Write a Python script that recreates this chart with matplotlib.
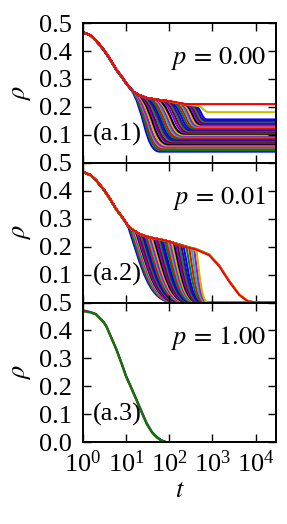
import numpy as np
import matplotlib
matplotlib.use("Agg")
import matplotlib.pyplot as plt
from matplotlib.path import Path
from matplotlib.patches import PathPatch

plt.rcParams.update({
    "font.family": "Liberation Serif",
    "mathtext.fontset": "stix",
    "font.size": 19,
    "axes.linewidth": 1.4,
})

T_END = 3.0e4
COLORS = ["b", "g", "r", "c", "m", "y", "k", "#7f00ff", "#800000", "#008080", "#4b0082"]

# common early decay of panels (a.1) and (a.2)
T_EARLY = [1, 1.5, 2, 3, 4, 6, 8, 10]
RHO_EARLY = [0.467, 0.456, 0.438, 0.405, 0.377, 0.332, 0.307, 0.285]

# (a.1) p = 0.00: shoulder, then each run falls to its own plateau
A1_SHOULDER_T = [12, 15, 20, 30, 50, 90, 150, 300, 600]
A1_SHOULDER_RHO = [0.270, 0.253, 0.242, 0.232, 0.226, 0.221, 0.214, 0.207, 0.202]
A1_LEAVE_T = [12, 13, 14, 15, 16, 18, 20, 22, 24, 27, 30, 33, 36, 40, 45, 50, 55, 60,
              70, 80, 90, 100, 115, 130, 150, 170, 190, 215, 240, 270, 300, 330, 370,
              420]
A1_LEAVE_RHO = [0.270, 0.264, 0.258, 0.253, 0.250, 0.246, 0.242, 0.239, 0.237, 0.234,
                0.232, 0.231, 0.230, 0.229, 0.227, 0.226, 0.225, 0.224, 0.223, 0.222,
                0.221, 0.220, 0.218, 0.216, 0.214, 0.213, 0.212, 0.210, 0.209, 0.208,
                0.207, 0.206, 0.205, 0.204]
A1_SETTLE_T = [60, 65, 70, 75, 80, 88, 95, 105, 112, 122, 132, 142, 152, 165, 180, 195,
               210, 225, 250, 275, 300, 320, 350, 380, 410, 440, 470, 510, 550, 590, 630,
               660, 700, 760]
A1_FINAL = [0.040, 0.045, 0.050, 0.055, 0.058, 0.062, 0.066, 0.070, 0.073, 0.077, 0.080,
            0.084, 0.087, 0.090, 0.094, 0.097, 0.100, 0.104, 0.107, 0.110, 0.113, 0.116,
            0.119, 0.122, 0.125, 0.128, 0.131, 0.134, 0.137, 0.140, 0.143, 0.147, 0.151,
            0.155]
# the two highest plateaus (yellow and red in the figure)
A1_TOP_LEAVE_T = [480, 100]
A1_TOP_LEAVE_RHO = [0.203, 0.220]
A1_TOP_SETTLE_T = [850, 300]
A1_TOP_FINAL = [0.181, 0.210]
A1_TOP_COLORS = ["y", "r"]

# (a.2) p = 0.01: runs fall from the shoulder all the way to zero
A2_SHOULDER_T = [11, 13, 16, 20, 25, 30, 40, 60, 100, 150, 250, 360, 450]
A2_SHOULDER_RHO = [0.275, 0.264, 0.255, 0.246, 0.240, 0.236, 0.231, 0.226, 0.218, 0.210,
                   0.200, 0.190, 0.183]
A2_LEAVE_T = [11, 12, 13, 14, 15, 16, 17, 18, 20, 22, 24, 26, 28, 30, 33, 36, 40, 44, 48,
              53, 58, 64, 70, 78, 86, 95, 105, 115, 128, 140, 155, 170, 190, 215, 250,
              290, 330, 380, 430]
A2_LEAVE_RHO = [0.275, 0.270, 0.264, 0.260, 0.258, 0.255, 0.253, 0.250, 0.246, 0.243,
                0.241, 0.239, 0.238, 0.236, 0.234, 0.233, 0.231, 0.230, 0.229, 0.228,
                0.227, 0.225, 0.224, 0.222, 0.221, 0.219, 0.217, 0.215, 0.213, 0.211,
                0.209, 0.207, 0.205, 0.203, 0.200, 0.196, 0.193, 0.189, 0.185]
A2_ZERO_T = [130, 135, 140, 145, 150, 155, 160, 165, 175, 185, 195, 205, 215, 225, 240,
             250, 265, 280, 295, 310, 330, 345, 360, 380, 400, 420, 440, 460, 480, 500,
             520, 540, 570, 600, 640, 680, 720, 760, 800]
# the few runs that survive longest
A2_SLOW_T = [170, 250, 415, 845, 1440, 2450, 4200, 6500, 10000, 30000]
A2_SLOW_RHO = [
    [0.207, 0.200, 0.192, 0.172, 0.133, 0.078, 0.029, 0.006, 0.0, 0.0],
    [0.206, 0.199, 0.191, 0.170, 0.131, 0.076, 0.028, 0.006, 0.0, 0.0],
    [0.205, 0.198, 0.190, 0.169, 0.130, 0.075, 0.027, 0.005, 0.0, 0.0],
]
A2_SLOW_COLORS = ["g", "y", "r"]

# (a.3) p = 1.00: every run collapses together
A3_T = [1, 1.5, 2, 3, 3.5, 5, 6, 8, 10, 13, 17.5, 22, 30, 40, 51, 65, 87, 120, 30000]
A3_RHO = [
    [0.472, 0.466, 0.459, 0.431, 0.416, 0.361, 0.333, 0.281, 0.238, 0.199, 0.153, 0.117,
     0.069, 0.037, 0.020, 0.008, 0.0, 0.0, 0.0],
    [0.470, 0.465, 0.458, 0.430, 0.414, 0.359, 0.330, 0.278, 0.235, 0.196, 0.150, 0.114,
     0.066, 0.035, 0.018, 0.007, 0.0, 0.0, 0.0],
    [0.469, 0.464, 0.457, 0.429, 0.413, 0.358, 0.329, 0.277, 0.234, 0.195, 0.149, 0.113,
     0.065, 0.034, 0.017, 0.006, 0.0, 0.0, 0.0],
]
A3_COLORS = ["b", "r", "g"]

P_LABELS = [r"$p\,=\,0.00$", r"$p\,=\,0.01$", r"$p\,=\,1.00$"]
PANEL_LABELS = ["(a.1)", "(a.2)", "(a.3)"]
LW = 1.5


def run_path(t_pre, rho_pre, t0, r0, c1, c2, t1, r1):
    verts = [(t, r) for t, r in zip(t_pre, rho_pre) if t < t0]
    verts += [(t0, r0), c1, c2, (t1, r1), (T_END, r1)]
    codes = [Path.MOVETO] + [Path.LINETO] * (len(verts) - 5) + [Path.CURVE4] * 3 + [Path.LINETO]
    return Path(verts, codes)


def plateau_run(ax, pre_t, pre_rho, t0, r0, t1, r1, color):
    tm = np.sqrt(t0 * t1)
    path = run_path(pre_t, pre_rho, t0, r0, (tm, r0 - 0.3 * (r0 - r1)), (tm, r1), t1, r1)
    ax.add_patch(PathPatch(path, fill=False, edgecolor=color, lw=LW))


fig, axes = plt.subplots(3, 1, figsize=(2.87, 5.24), dpi=100, sharex=True)
fig.subplots_adjust(left=0.289, right=0.962, top=0.956, bottom=0.156, hspace=0)

# (a.1)
ax = axes[0]
pre_t = T_EARLY + A1_SHOULDER_T
pre_rho = RHO_EARLY + A1_SHOULDER_RHO
for i, (t0, r0, t1, r1) in enumerate(zip(A1_LEAVE_T, A1_LEAVE_RHO, A1_SETTLE_T, A1_FINAL)):
    plateau_run(ax, pre_t, pre_rho, t0, r0, t1, r1, COLORS[i % len(COLORS)])
for t0, r0, t1, r1, col in zip(A1_TOP_LEAVE_T, A1_TOP_LEAVE_RHO, A1_TOP_SETTLE_T,
                               A1_TOP_FINAL, A1_TOP_COLORS):
    plateau_run(ax, pre_t, pre_rho, t0, r0, t1, r1, col)

# (a.2)
ax = axes[1]
pre_t = T_EARLY + A2_SHOULDER_T
pre_rho = RHO_EARLY + A2_SHOULDER_RHO
for i, (t0, r0, tz) in enumerate(zip(A2_LEAVE_T, A2_LEAVE_RHO, A2_ZERO_T)):
    span = tz / t0
    path = run_path(pre_t, pre_rho, t0, r0, (t0 * span ** 0.3, r0 * 0.45),
                    (t0 * span ** 0.45, 0.0), tz, 0.0)
    ax.add_patch(PathPatch(path, fill=False, edgecolor=COLORS[i % len(COLORS)], lw=LW))
for rho, col in zip(A2_SLOW_RHO, A2_SLOW_COLORS):
    ax.plot(T_EARLY + A2_SHOULDER_T[:9] + A2_SLOW_T, RHO_EARLY + A2_SHOULDER_RHO[:9] + rho,
            color=col, lw=LW)

# (a.3)
ax = axes[2]
for rho, col in zip(A3_RHO, A3_COLORS):
    ax.plot(A3_T, rho, color=col, lw=LW)

for k, ax in enumerate(axes):
    ax.set_xscale("log")
    ax.set_xlim(1, T_END)
    ax.set_ylim(0, 0.5)
    ax.set_yticks([0.0, 0.1, 0.2, 0.3, 0.4, 0.5])
    labels = ["0.0", "0.1", "0.2", "0.3", "0.4", "0.5"]
    if k < 2:
        labels[0] = ""
    ax.set_yticklabels(labels)
    ax.tick_params(which="both", direction="in", top=True, right=True)
    ax.tick_params(which="major", length=6, width=1.0)
    ax.tick_params(which="minor", length=3, width=0.8)
    ax.tick_params(axis="y", pad=8)
    ax.tick_params(axis="x", pad=6)
    ax.set_ylabel(r"$\rho$", labelpad=4)
    ax.text(0.945, 0.745, P_LABELS[k], transform=ax.transAxes, ha="right", va="center")
    ax.text(0.05, 0.2, PANEL_LABELS[k], transform=ax.transAxes, ha="left", va="center")

axes[2].set_xticks([1, 10, 100, 1000, 10000])
axes[2].set_xlabel("$t$", labelpad=2)

fig.savefig("out.png", dpi=100)
